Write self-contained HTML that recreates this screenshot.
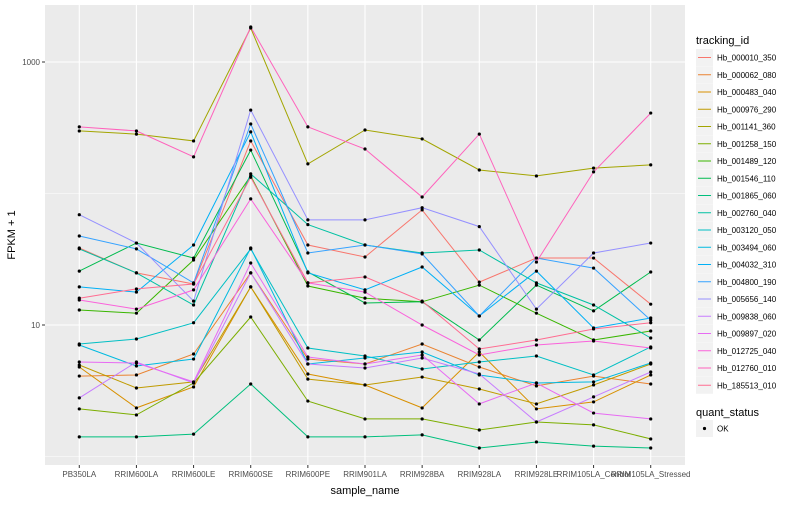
<!DOCTYPE html>
<html><head><meta charset="utf-8"><style>
body{margin:0;background:#fff;font-family:"Liberation Sans",sans-serif}
svg text{font-family:"Liberation Sans",sans-serif}
</style></head><body>
<svg id="chart" width="800" height="500" viewBox="0 0 800 500"></svg>
<script>
const categories=["PB350LA","RRIM600LA","RRIM600LE","RRIM600SE","RRIM600PE","RRIM901LA","RRIM928BA","RRIM928LA","RRIM928LE","RRIM105LA_Control","RRIM105LA_Stressed"];
const seriesNames=["Hb_000010_350","Hb_000062_080","Hb_000483_040","Hb_000976_290","Hb_001141_360","Hb_001258_150","Hb_001489_120","Hb_001546_110","Hb_001865_060","Hb_002760_040","Hb_003120_050","Hb_003494_060","Hb_004032_310","Hb_004800_190","Hb_005656_140","Hb_009838_060","Hb_009897_020","Hb_012725_040","Hb_012760_010","Hb_185513_010"];
const colors=["#F8766D","#EA8331","#D89000","#C09B00","#A3A500","#7CAE00","#39B600","#00BB4E","#00BF7D","#00C1A3","#00BFC4","#00BAE0","#00B0F6","#35A2FF","#9590FF","#C77CFF","#E76BF3","#FA62DB","#FF62BC","#FF6C91"];
const s_000010_350=[38.5,24.9,20.5,251,40.6,32.9,75,21.2,32.3,32.3,14.4];
const s_000062_080=[4.09,4.17,6.02,24.9,5.51,5.05,7.17,4.79,3.44,4.09,3.56];
const s_000483_040=[4.79,2.34,3.38,19.5,4.24,3.50,2.34,6.23,2.30,2.60,4.17];
const s_000976_290=[4.96,3.32,3.69,19.5,3.88,3.50,4.02,3.26,2.51,3.50,5.05];
const s_001141_360=[299,283,251,1815,168,304,260,151,136,156,165];
const s_001258_150=[2.30,2.07,3.62,11.5,2.64,1.93,1.93,1.59,1.83,1.74,1.36];
const s_001489_120=[13.0,12.3,31.2,136,19.8,16.0,15.0,20.1,12.3,7.69,9.0];
const s_001546_110=[25.7,42,32.3,214,25.3,14.7,15.0,7.69,20.1,12.8,25.3];
const s_001865_060=[1.41,1.41,1.48,3.56,1.41,1.41,1.46,1.16,1.29,1.20,1.16];
const s_002760_040=[37.9,24.9,14.2,141,58,40.6,35.3,37.2,20.9,14.2,7.96];
const s_003120_050=[7.17,7.83,10.4,37.9,6.69,5.81,4.63,5.23,5.81,4.17,6.81];
const s_003494_060=[7.05,4.88,5.51,38.5,5.05,5.61,6.23,4.17,3.62,3.69,5.14];
const s_004032_310=[19.5,17.8,40.6,294,24.9,18.5,27.6,11.7,25.7,9.49,11.3];
const s_004800_190=[47.5,37.9,20.9,338,35.3,40.6,34.7,11.7,32.3,27.1,10.9];
const s_005656_140=[69,42,15.2,431,63,63,78,56,13.2,35.3,42];
const s_009838_060=[2.79,5.23,3.62,24.9,5.05,4.71,5.61,4.24,1.83,2.84,4.39];
const s_009897_020=[5.23,5.14,3.69,29.6,5.71,5.05,5.91,2.51,3.62,2.14,1.93];
const s_012725_040=[15.5,13.2,18.5,91,20.9,17.8,10,5.91,7.05,7.56,6.69];
const s_012760_010=[321,299,190,1845,321,218,94,283,30.1,146,409];
const s_185513_010=[16.0,18.8,20.5,133,20.9,23.2,15.2,6.57,7.69,9.33,10.4];
const seriesValues=[s_000010_350,s_000062_080,s_000483_040,s_000976_290,s_001141_360,s_001258_150,s_001489_120,s_001546_110,s_001865_060,s_002760_040,s_003120_050,s_003494_060,s_004032_310,s_004800_190,s_005656_140,s_009838_060,s_009897_020,s_012725_040,s_012760_010,s_185513_010];
const yTickValues=[10,1000];
const yTickLabels=["10","1000"];
const yMinorValues=[1,100];

const NS="http://www.w3.org/2000/svg";
const svg=document.getElementById('chart');
const P={l:45,r:685,t:5,b:465};
const step=(P.r-P.l)/(categories.length-1+1.2);
function xPos(i){return P.l+step*0.6+i*step;}
function yPos(v){return 62+(3-Math.log10(v))*131.5;}
function mk(tag,attrs,parent){const e=document.createElementNS(NS,tag);for(const k in attrs)e.setAttribute(k,attrs[k]);(parent||svg).appendChild(e);return e;}

const panel=mk('rect',{x:P.l,y:P.t,width:P.r-P.l,height:P.b-P.t,fill:'#EBEBEB'});


yMinorValues.forEach(v=>{const g=mk('line',{x1:P.l,x2:P.r,y1:yPos(v),y2:yPos(v),stroke:'#fff','stroke-width':0.6});

});
yTickValues.forEach((v,i)=>{const y=yPos(v);
const g=mk('line',{x1:P.l,x2:P.r,y1:y,y2:y,stroke:'#fff','stroke-width':1.1});


mk('line',{x1:P.l-3,x2:P.l,y1:y,y2:y,stroke:'#333','stroke-width':1});
const t=mk('text',{x:P.l-5,y:y+3,'text-anchor':'end','font-size':8,fill:'#4D4D4D'});t.textContent=yTickLabels[i];

});
categories.forEach((c,i)=>{const x=xPos(i);
const g=mk('line',{x1:x,x2:x,y1:P.t,y2:P.b,stroke:'#fff','stroke-width':1.1});


mk('line',{x1:x,x2:x,y1:P.b,y2:P.b+3,stroke:'#333','stroke-width':1});
const t=mk('text',{x:x,y:P.b+12,'text-anchor':'middle','font-size':8,fill:'#4D4D4D'});t.textContent=c;

});
seriesValues.forEach((vals,s)=>{
const pts=vals.map((v,i)=>xPos(i).toFixed(1)+','+yPos(v).toFixed(1)).join(' ');
const pl=mk('polyline',{points:pts,fill:'none',stroke:colors[s],'stroke-width':1});

});
seriesValues.forEach((vals,s)=>{vals.forEach((v,i)=>{
const c=mk('circle',{cx:xPos(i),cy:yPos(v),r:1.6,fill:'#000'});

});});
const yt=mk('text',{x:15,y:235,transform:'rotate(-90 15 235)','text-anchor':'middle','font-size':11,fill:'#000'});yt.textContent='FPKM + 1';


const xt=mk('text',{x:365,y:494,'text-anchor':'middle','font-size':11,fill:'#000'});xt.textContent='sample_name';


const lt=mk('text',{x:696,y:44,'font-size':11,fill:'#000'});lt.textContent='tracking_id';


seriesNames.forEach((n,s)=>{const y=57.5+s*17.25;
const g=mk('g',{});


mk('rect',{x:696,y:y-8.5,width:17,height:17,fill:'#F2F2F2'},g);
mk('line',{x1:698,x2:711,y1:y,y2:y,stroke:colors[s],'stroke-width':1},g);
const t=mk('text',{x:717,y:y+3,'font-size':8,fill:'#000'},g);t.textContent=n;});
const qt=mk('text',{x:696,y:416,'font-size':11,fill:'#000'});qt.textContent='quant_status';


const qg=mk('g',{});


mk('rect',{x:696,y:420,width:17,height:17,fill:'#F2F2F2'},qg);
mk('circle',{cx:704.5,cy:428.5,r:1.6,fill:'#000'},qg);
const ok=mk('text',{x:717,y:431.5,'font-size':8,fill:'#000'},qg);ok.textContent='OK';
</script>
</body></html>
